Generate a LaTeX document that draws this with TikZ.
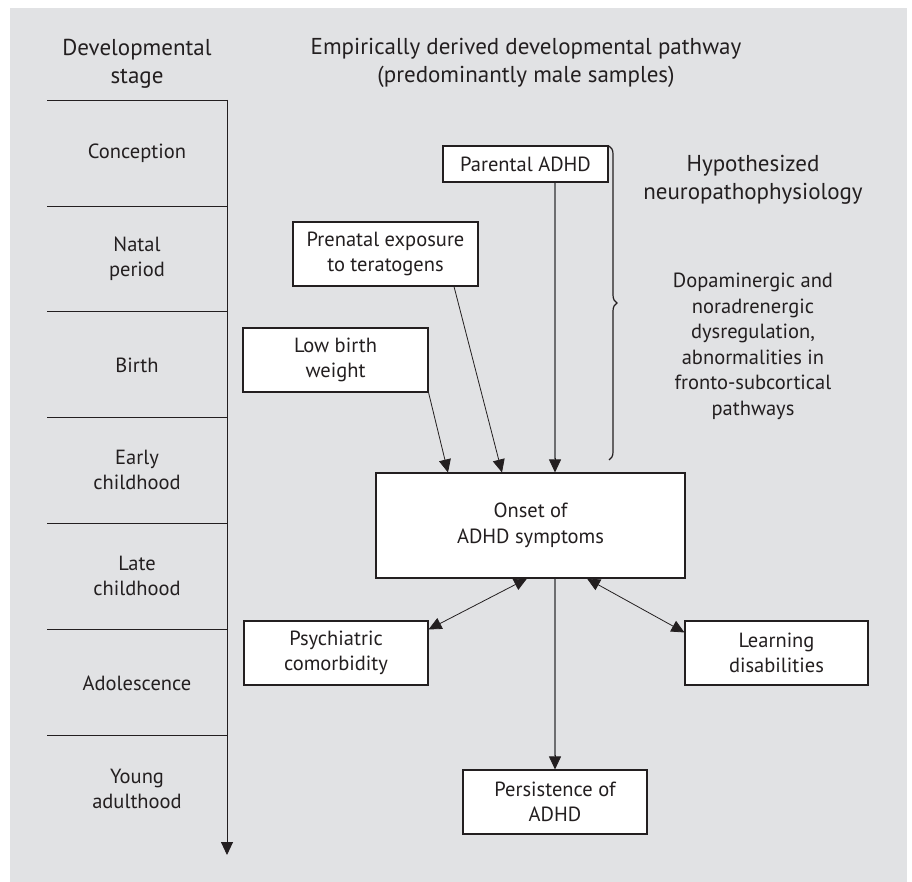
\documentclass[tikz,border=0pt]{standalone}
\usepackage{fontspec}
\setmainfont{PT Sans}
\usetikzlibrary{arrows.meta,decorations.pathreplacing,calc}
\definecolor{bggray}{HTML}{E1E2E4}
\definecolor{ink}{HTML}{231F20}
\definecolor{midgray}{HTML}{6D6E70}
\tikzset{
  txt/.style={text=ink, align=center, inner sep=0pt, font=\fontsize{20.5}{25.5}\selectfont},
  ttl/.style={text=ink, align=center, inner sep=0pt, font=\fontsize{23}{28}\selectfont},
  boxnode/.style={draw=ink, fill=white, line width=1.1pt, text=ink, align=center, inner sep=0pt, font=\fontsize{20.5}{25.5}\selectfont},
  conn/.style={draw=ink, line width=0.8pt, -{Triangle[length=13pt,width=12pt]}},
  dconn/.style={draw=ink, line width=0.8pt, {Triangle[length=13pt,width=12pt]}-{Triangle[length=13pt,width=12pt]}},
  gconn/.style={draw=midgray, line width=1.1pt},
  stageline/.style={draw=ink, line width=0.9pt}
}
\begin{document}
\begin{tikzpicture}[x=1pt,y=-1pt]
\useasboundingbox (0,0) rectangle (912,882);
\fill[bggray] (10,8) rectangle (907,882);

% titles
\node[ttl] (devtitle) at (137,64) {Developmental\\stage};
\node[ttl] (pathtitle) at (526,63) {Empirically derived developmental pathway\\(predominantly male samples)};
\node[ttl] (hyptitle) at (753,180) {Hypothesized\\neuropathophysiology};
\node[txt] (neuro) at (753,346.5) {Dopaminergic and\\noradrenergic\\dysregulation,\\abnormalities in\\fronto-subcortical\\pathways};

% timeline
\coordinate (tltop) at (227,100);
\coordinate (tlend) at (227,855);
\foreach \yy in {100,206,311,417,523,629,735}{
  \draw[stageline] (47,\yy) -- (227,\yy);
}
\draw[stageline, -{Triangle[length=13pt,width=12pt]}] (tltop) -- (tlend);
\node[txt] (s1) at (137,153) {Conception};
\node[txt] (s2) at (137,259) {Natal\\period};
\node[txt] (s3) at (137,365) {Birth};
\node[txt] (s4) at (137,470) {Early\\childhood};
\node[txt] (s5) at (137,576) {Late\\childhood};
\node[txt] (s6) at (137,683) {Adolescence};
\node[txt] (s7) at (137,789) {Young\\adulthood};

% boxes
\node[boxnode, minimum width=165pt, minimum height=36pt] (parental) at (525.5,164) {Parental ADHD};
\node[boxnode, minimum width=185pt, minimum height=64pt] (prenatal) at (385.5,254) {Prenatal exposure\\to teratogens};
\node[boxnode, minimum width=185pt, minimum height=64pt] (lowbirth) at (335.5,360) {Low birth\\weight};
\node[boxnode, minimum width=309pt, minimum height=105pt] (onset) at (530.5,525.5) {Onset of\\ADHD symptoms};
\node[boxnode, minimum width=184pt, minimum height=64pt] (psych) at (336,653) {Psychiatric\\comorbidity};
\node[boxnode, minimum width=183pt, minimum height=64pt] (learn) at (776.5,653) {Learning\\disabilities};
\node[boxnode, minimum width=184pt, minimum height=64pt] (persist) at (555,802) {Persistence of\\ADHD};

% connectors
\draw[gconn] ([xshift=29.5pt]parental.south) -- ([xshift=24.5pt,yshift=13pt]onset.north);
\draw[conn] ([xshift=24.5pt,yshift=14pt]onset.north) -- ([xshift=24.5pt]onset.north);
\draw[conn] ([xshift=68.5pt]prenatal.south) -- ([xshift=-28.5pt]onset.north);
\draw[conn] (lowbirth.south east) -- ([xshift=-82.5pt]onset.north);
\draw[gconn] ([xshift=24.5pt]onset.south) -- ([yshift=13pt]persist.north);
\draw[conn] ([yshift=14pt]persist.north) -- (persist.north);
\draw[dconn] ([xshift=-3.5pt]onset.south) -- ([yshift=-9pt]psych.north east);
\draw[dconn] ([xshift=56.5pt]onset.south) -- ([yshift=-12pt]learn.north west);

% brace
\draw[draw=ink, line width=1.2pt, decorate, decoration={brace, amplitude=8pt}] (609,146) -- (609,460);
\end{tikzpicture}
\end{document}
